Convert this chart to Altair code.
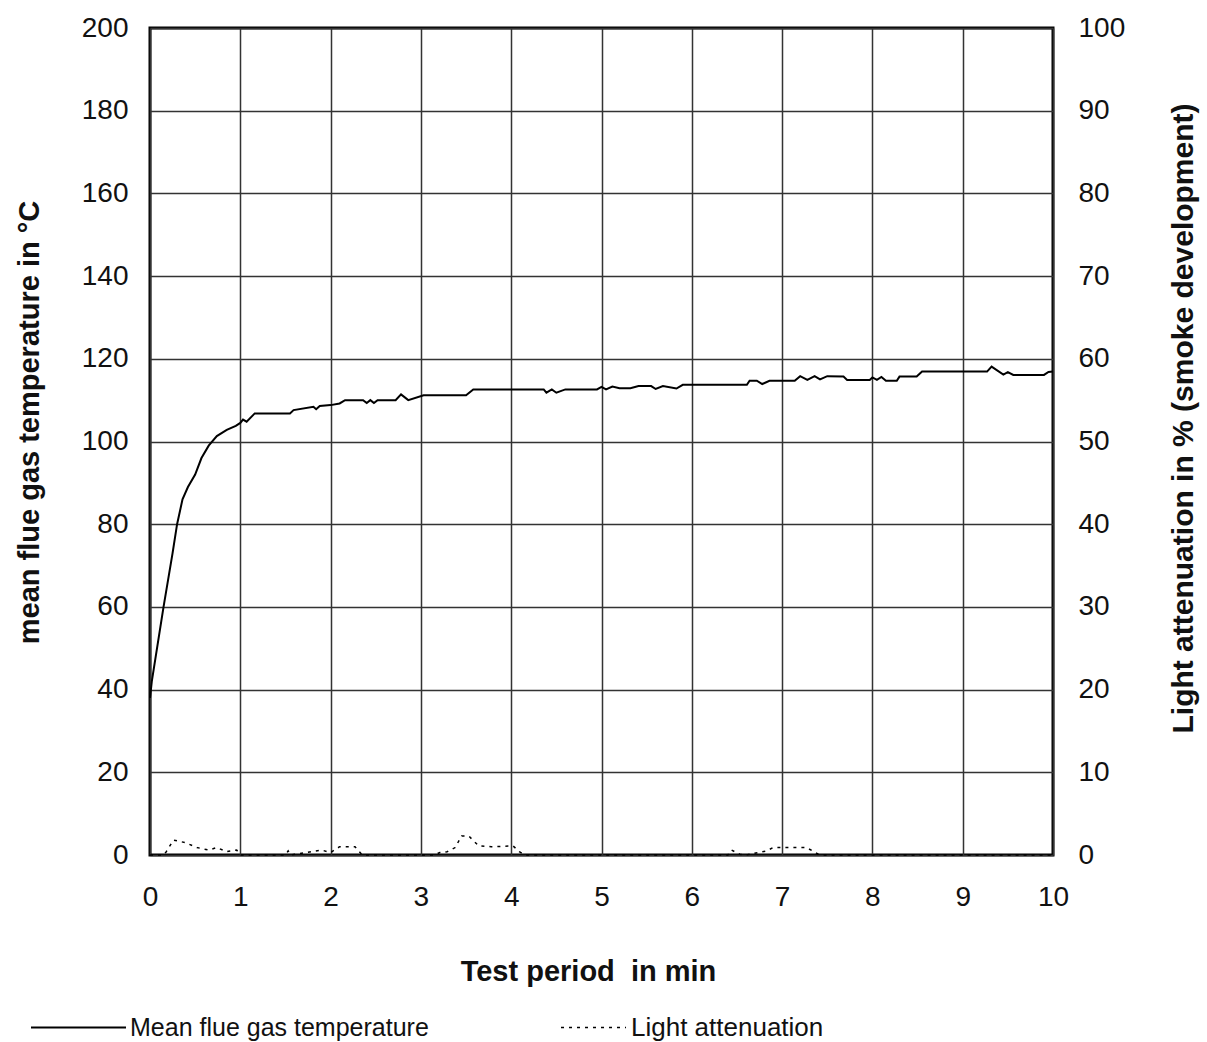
import altair as alt
import pandas as pd

# Mean flue gas temperature (°C) vs test period (min)
temp_min = [0, 0.02, 0.15, 0.25, 0.3, 0.36, 0.42, 0.5, 0.57, 0.65, 0.74, 0.85, 0.95, 1.0,
            1.03, 1.07, 1.16, 1.55, 1.59, 1.81, 1.84, 1.88, 2.0, 2.1, 2.16, 2.36, 2.4, 2.44,
            2.48, 2.52, 2.62, 2.72, 2.78, 2.86, 3.03, 3.5, 3.58, 4.36, 4.39, 4.45, 4.5, 4.6,
            4.95, 5.0, 5.05, 5.12, 5.2, 5.32, 5.41, 5.55, 5.6, 5.68, 5.83, 5.9, 6.61, 6.64,
            6.72, 6.78, 6.86, 7.14, 7.2, 7.28, 7.36, 7.42, 7.5, 7.68, 7.72, 7.97, 8.0, 8.05,
            8.1, 8.15, 8.27, 8.3, 8.49, 8.55, 9.27, 9.32, 9.45, 9.5, 9.56, 9.9, 9.95, 10.0]
temp_val = [38, 42, 60, 73, 80, 86, 89, 92, 96, 99, 101.3, 102.8, 103.8, 104.5,
            105.3, 104.8, 106.8, 106.8, 107.6, 108.4, 107.8, 108.6, 108.8, 109.2, 110, 110, 109.3, 110,
            109.3, 110, 110, 110, 111.4, 110, 111.2, 111.2, 112.6, 112.6, 111.8, 112.6, 111.8, 112.6,
            112.6, 113.2, 112.6, 113.3, 112.9, 112.9, 113.4, 113.4, 112.7, 113.4, 112.8, 113.7, 113.7, 114.7,
            114.7, 113.9, 114.7, 114.7, 115.8, 114.9, 115.8, 115.0, 115.8, 115.7, 114.9, 114.9, 115.5, 114.9,
            115.6, 114.7, 114.7, 115.7, 115.7, 116.9, 116.9, 118.1, 116.2, 116.8, 116.1, 116.1, 116.8, 116.9]

# Light attenuation (%) vs test period (min)
light_min = [0, 0.15, 0.18, 0.26, 0.39, 0.52, 0.65, 0.74, 0.85, 0.96, 1.0, 1.5, 1.53, 1.56,
             1.9, 2.0, 2.1, 2.27, 2.35, 3.15, 3.21, 3.29, 3.38, 3.45, 3.53, 3.64, 3.78, 4.02,
             4.09, 4.15, 6.4, 6.44, 6.53, 6.6, 6.83, 6.9, 7.1, 7.27, 7.4, 7.45, 10]
light_val = [0, 0, 0.4, 1.8, 1.5, 0.9, 0.6, 0.9, 0.4, 0.6, 0, 0, 0.5, 0,
             0.6, 0.3, 1.0, 1.0, 0, 0, 0.3, 0.4, 0.9, 2.3, 2.3, 1.1, 1.0, 1.1,
             0.4, 0, 0, 0.6, 0.1, 0, 0.5, 0.9, 0.9, 0.9, 0.1, 0, 0]

x_ticks = list(range(0, 11))
left_ticks = list(range(0, 201, 20))
right_ticks = list(range(0, 101, 10))

df_t = pd.DataFrame({"min": temp_min, "temp": temp_val,
                     "series": "Mean flue gas temperature"})
df_l = pd.DataFrame({"min": light_min, "att": light_val,
                     "series2": "Light attenuation"})

FONT = "Liberation Sans"

x_scale = alt.Scale(domain=[0, 10], nice=False)
x_axis = alt.Axis(values=x_ticks, title="Test period\u00a0 in min", grid=True,
                  labelPadding=28, titlePadding=46, format="d", labelFlush=False,
                  titleX=438)

temp = alt.Chart(df_t).mark_line(strokeWidth=2).encode(
    x=alt.X("min:Q", scale=x_scale, axis=x_axis),
    y=alt.Y("temp:Q", scale=alt.Scale(domain=[0, 200], nice=False),
            axis=alt.Axis(values=left_ticks, orient="left", grid=True,
                          title="mean flue gas temperature in °C",
                          labelPadding=22, titlePadding=37, titleY=394)),
    color=alt.Color("series:N", scale=alt.Scale(range=["black"]),
                    legend=alt.Legend(title=None, orient="none", legendX=-120, legendY=951,
                                      symbolType="stroke", symbolSize=9025,
                                      symbolStrokeWidth=2, labelFontSize=25,
                                      labelFont=FONT, labelOffset=3, padding=0,
                                      labelLimit=0)),
)

light = alt.Chart(df_l).mark_line(strokeWidth=1.5, color="black").encode(
    x=alt.X("min:Q", scale=x_scale, axis=x_axis),
    y=alt.Y("att:Q", scale=alt.Scale(domain=[0, 100], nice=False),
            axis=alt.Axis(values=right_ticks, orient="right", grid=False,
                          title="Light attenuation in % (smoke development)",
                          labelPadding=25, titlePadding=74, titleAngle=270,
                          titleFontSize=30, titleY=390)),
    strokeDash=alt.StrokeDash("series2:N", scale=alt.Scale(range=[[3, 5]]),
                              legend=alt.Legend(title=None, orient="none", legendX=410, legendY=966,
                                                symbolType="stroke", symbolSize=4225,
                                                symbolStrokeWidth=1.5, symbolStrokeColor="black",
                                                labelFontSize=26, labelFont=FONT,
                                                labelOffset=4, padding=0, labelLimit=0)),
)

chart = alt.layer(temp, light).resolve_scale(
    y="independent", color="independent", strokeDash="independent"
).properties(
    width=903, height=827, autosize="none",
    padding={"left": 150, "top": 28, "right": 154, "bottom": 187},
).configure_view(
    stroke="black", strokeWidth=3
).configure_axis(
    labelFont=FONT, titleFont=FONT, labelFontSize=28, titleFontSize=29,
    labelColor="#111", titleColor="#111", titleFontWeight="bold",
    domain=False, ticks=False, tickSize=0,
    gridColor="#333", gridWidth=1.5, gridOpacity=1,
).configure_legend(
    labelColor="#111"
)

chart.save("out.html", embed_options={"renderer": "svg", "actions": False})
